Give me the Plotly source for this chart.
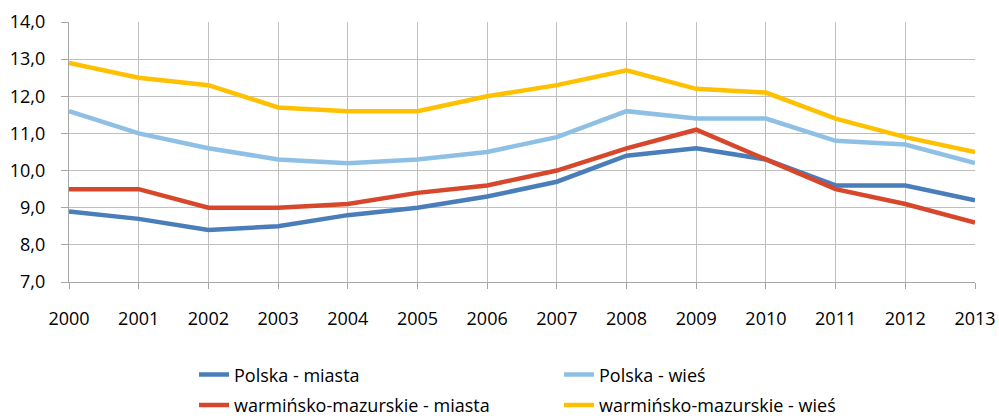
import plotly.graph_objects as go

years = [2000, 2001, 2002, 2003, 2004, 2005, 2006, 2007, 2008, 2009, 2010, 2011, 2012, 2013]
polska_miasta = [8.9, 8.7, 8.4, 8.5, 8.8, 9.0, 9.3, 9.7, 10.4, 10.6, 10.3, 9.6, 9.6, 9.2]
polska_wies = [11.6, 11.0, 10.6, 10.3, 10.2, 10.3, 10.5, 10.9, 11.6, 11.4, 11.4, 10.8, 10.7, 10.2]
wm_miasta = [9.5, 9.5, 9.0, 9.0, 9.1, 9.4, 9.6, 10.0, 10.6, 11.1, 10.3, 9.5, 9.1, 8.6]
wm_wies = [12.9, 12.5, 12.3, 11.7, 11.6, 11.6, 12.0, 12.3, 12.7, 12.2, 12.1, 11.4, 10.9, 10.5]

series = [
    ("Polska - miasta", polska_miasta, "#4A7EBB", "legend"),
    ("Polska - wieś", polska_wies, "#8EC0E5", "legend"),
    ("warmińsko-mazurskie - miasta", wm_miasta, "#D6472B", "legend2"),
    ("warmińsko-mazurskie - wieś", wm_wies, "#FFC000", "legend2"),
]

fig = go.Figure()
for name, vals, col, leg in series:
    fig.add_trace(go.Scatter(x=years, y=vals, name=name, mode="lines", legend=leg,
                             line=dict(color=col, width=4.5)))

FAM = "'Open Sans', sans-serif"
font = dict(family=FAM, size=18, color="#000000")
legcommon = dict(orientation="h", xanchor="left", yanchor="middle",
                 entrywidth=320, entrywidthmode="pixels",
                 font=dict(family=FAM, size=18, color="#000000"),
                 bgcolor="rgba(0,0,0,0)", borderwidth=0)
fig.update_layout(
    width=999, height=418,
    margin=dict(l=69, r=24, t=22, b=136, autoexpand=False),
    plot_bgcolor="white", paper_bgcolor="white",
    font=font,
    separators=",.",
    showlegend=True,
    legend=dict(x=0.138, y=-0.357, **legcommon),
    legend2=dict(x=0.138, y=-0.474, **legcommon),
)
fig.update_xaxes(range=[2000, 2013], tickmode="array", tickvals=years,
                 ticktext=[str(y) for y in years],
                 showgrid=True, gridcolor="#BFBFBF", gridwidth=1.3,
                 showline=True, linecolor="#A6A6A6", linewidth=1.3,
                 ticks="outside", ticklen=6, tickcolor="#A6A6A6", tickwidth=1.3,
                 ticklabelstandoff=14, zeroline=False)
fig.update_yaxes(range=[7, 14], dtick=1, tickformat=".1f",
                 showgrid=True, gridcolor="#BFBFBF", gridwidth=1.3,
                 showline=True, linecolor="#A6A6A6", linewidth=1.3,
                 ticks="outside", ticklen=7, tickcolor="#A6A6A6", tickwidth=1.3,
                 ticklabelstandoff=12, zeroline=False)

fig.write_html("out.html", config={"displayModeBar": False},
               post_script="document.body.style.margin='0';document.body.style.overflow='hidden';")
